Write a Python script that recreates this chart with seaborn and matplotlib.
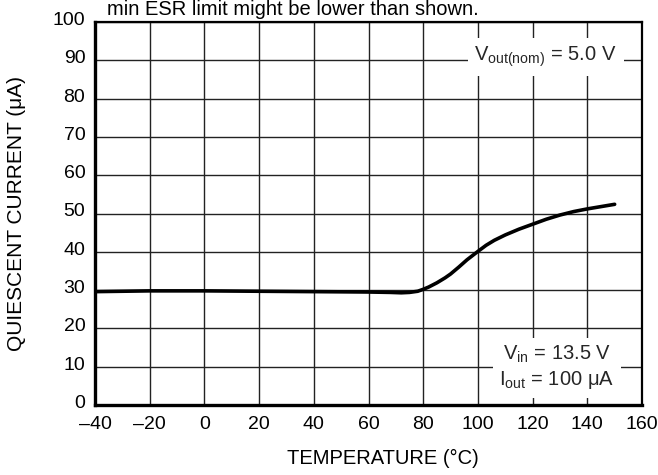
import matplotlib
matplotlib.use("Agg")
import matplotlib.pyplot as plt
import matplotlib.transforms as mtransforms
import seaborn as sns
import pandas as pd

temperature = [-40, -20, 0, 20, 40, 60, 68, 72, 75, 78, 80, 82, 85, 88, 90, 93, 96, 100,
               103, 106, 110, 115, 120, 125, 130, 135, 140, 145, 150]
current = [29.6, 29.8, 29.8, 29.7, 29.6, 29.5, 29.4, 29.3, 29.4, 29.7, 30.2, 30.8, 31.9, 33.2, 34.2,
           36.0, 37.9, 40.1, 41.7, 43.0, 44.4, 45.9, 47.2, 48.5, 49.6, 50.5, 51.2, 51.8, 52.4]
x_ticks = [-40, -20, 0, 20, 40, 60, 80, 100, 120, 140, 160]
y_ticks = [0, 10, 20, 30, 40, 50, 60, 70, 80, 90, 100]

sns.set_theme(style="white")
plt.rcParams['font.family'] = ['Liberation Sans', 'DejaVu Sans']
plt.rcParams['mathtext.fontset'] = 'custom'
plt.rcParams['mathtext.rm'] = 'Liberation Sans'
plt.rcParams['mathtext.it'] = 'Liberation Sans'

FS = 14

df = pd.DataFrame({"T": temperature, "I": current})

fig = plt.figure(figsize=(6.58, 4.75), dpi=100)
ax = fig.add_axes([95/658, 1 - 405/475, (642-95)/658, (405-22)/475])

ax.set_xlim(-40, 160)
ax.set_ylim(0, 100)
ax.set_xticks(x_ticks)
ax.set_yticks(y_ticks)
ax.set_xticklabels([str(t).replace('-', '\u2013') for t in x_ticks])
ax.grid(True, color='#222222', linewidth=1.0)
ax.set_axisbelow(True)

sns.lineplot(data=df, x="T", y="I", ax=ax, color='black', linewidth=2.6)
for line in ax.get_lines():
    line.set_solid_capstyle('round')
    line.set_solid_joinstyle('round')

for s in ax.spines.values():
    s.set_color('black')
    s.set_linewidth(1.6)
ax.spines['left'].set_linewidth(2.4)
ax.spines['bottom'].set_linewidth(2.4)

ax.tick_params(axis='x', length=0, labelsize=FS, colors='black', pad=8)
ax.tick_params(axis='y', length=0, labelsize=FS, colors='black', pad=7)
shift = mtransforms.ScaledTranslation(0, 3.5/100, fig.dpi_scale_trans)
for lab in ax.get_yticklabels():
    lab.set_transform(lab.get_transform() + shift)

ax.set_xlabel('TEMPERATURE (°C)', fontsize=14.5, color='black', va='center')
ax.xaxis.set_label_coords((383-95)/547, (405-458)/383)
ax.set_ylabel('QUIESCENT CURRENT (μA)', fontsize=15, color='black', va='center')
ax.yaxis.set_label_coords((16.5-95)/547, 0.5)

bbox = dict(facecolor='white', edgecolor='none', pad=5)
ax.text(150.8, 90.8, r'V$_{\mathrm{out(nom)}}$ = 5.0 V', ha='right', va='center',
        fontsize=14.5, bbox=bbox)
ax.text(128.9, 9.7, 'V$_{\\mathrm{in}}$ = 13.5 V\nI$_{\\mathrm{out}}$ = 100 μA', ha='center',
        va='center', multialignment='center', fontsize=14.5, bbox=bbox, linespacing=1.25)

fig.text(107/658, 1 - 15/475, 'min ESR limit might be lower than shown.', fontsize=14.5,
         ha='left', va='baseline', color='black')

fig.savefig('out.png', dpi=100)
